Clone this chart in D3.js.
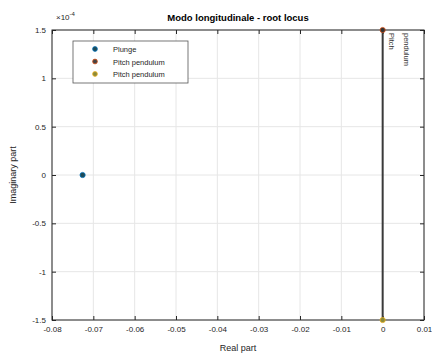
<!DOCTYPE html>
<html>
<head>
<meta charset="utf-8">
<script src="https://cdn.jsdelivr.net/npm/d3@7"></script>
<style>
  html, body { margin: 0; padding: 0; background: #fff; }
  svg { display: block; font-family: "Liberation Sans", Arial, sans-serif; }
</style>
</head>
<body>
<svg id="chart" width="432" height="358"></svg>
<script>
// Longitudinal-mode root locus data
const xTicks = [-0.08, -0.07, -0.06, -0.05, -0.04, -0.03, -0.02, -0.01, 0, 0.01];
const yTicks = [-1.5, -1, -0.5, 0, 0.5, 1, 1.5];          // units of 1e-4
const seriesNames = ["Plunge", "Pitch pendulum", "Pitch pendulum"];
const seriesColors = ["#0072BD", "#D95319", "#EDB120"];
const rootsRe = [-0.0726, 0, 0];
const rootsIm = [0, 1.5, -1.5];                             // units of 1e-4
const locusRe = [0, 0];
const locusIm = [1.5, -1.5];
const rootLabels = ["Pitch", "pendulum"];

const svg = d3.select("#chart");
const m = { left: 52, right: 424, top: 30, bottom: 320 };

const x = d3.scaleLinear().domain([-0.08, 0.01]).range([m.left, m.right]);
const y = d3.scaleLinear().domain([-1.5, 1.5]).range([m.bottom, m.top]);

// grid
const grid = svg.append("g").attr("stroke", "#e6e6e6").attr("stroke-width", 1);
grid.selectAll(".gx").data(xTicks).join("line")
  .attr("x1", d => x(d)).attr("x2", d => x(d)).attr("y1", m.top).attr("y2", m.bottom);
grid.selectAll(".gy").data(yTicks).join("line")
  .attr("x1", m.left).attr("x2", m.right).attr("y1", d => y(d)).attr("y2", d => y(d));

// axes (plain hyphen for negative numbers)
const xAxis = d3.axisBottom(x).tickValues(xTicks).tickSize(-4).tickPadding(6)
  .tickFormat(d => d === 0 ? "0" : d3.format(".2f")(d).replace("\u2212", "-"));
const yAxis = d3.axisLeft(y).tickValues(yTicks).tickSize(-4).tickPadding(6)
  .tickFormat(d => d === 0 ? "0" : String(d));

function styleAxis(g) {
  g.select(".domain").remove();
  g.selectAll(".tick line").attr("stroke", "#262626");
  g.selectAll(".tick text").attr("fill", "#262626").attr("font-size", 8);
}
svg.append("g").attr("transform", `translate(0,${m.bottom})`).call(xAxis).call(styleAxis);
svg.append("g").attr("transform", `translate(${m.left},0)`).call(yAxis).call(styleAxis);
// mirrored ticks on top and right
svg.append("g").attr("transform", `translate(0,${m.top})`)
  .call(d3.axisTop(x).tickValues(xTicks).tickSize(-4).tickFormat(""))
  .call(g => { g.select(".domain").remove(); g.selectAll(".tick line").attr("stroke", "#262626"); });
svg.append("g").attr("transform", `translate(${m.right},0)`)
  .call(d3.axisRight(y).tickValues(yTicks).tickSize(-4).tickFormat(""))
  .call(g => { g.select(".domain").remove(); g.selectAll(".tick line").attr("stroke", "#262626"); });

// box
svg.append("rect").attr("x", m.left).attr("y", m.top)
  .attr("width", m.right - m.left).attr("height", m.bottom - m.top)
  .attr("fill", "none").attr("stroke", "#262626").attr("stroke-width", 1);

// locus branch along the imaginary axis
svg.append("line")
  .attr("x1", x(locusRe[0])).attr("x2", x(locusRe[1]))
  .attr("y1", y(locusIm[0])).attr("y2", y(locusIm[1]))
  .attr("stroke", "#3a3a3a").attr("stroke-width", 2);

// roots
svg.selectAll(".root").data(rootsRe).join("circle")
  .attr("cx", (d, i) => x(d)).attr("cy", (d, i) => y(rootsIm[i])).attr("r", 2.6)
  .attr("fill", (d, i) => i === 1 ? "#333" : (i === 0 ? "#1f4a55" : "#8a8a3a"))
  .attr("stroke", (d, i) => seriesColors[i]).attr("stroke-width", 0.8);

// rotated labels next to the upper root
rootLabels.forEach((t, i) => {
  svg.append("text")
    .attr("transform", `translate(${x(0) + 6 + i * 15},${m.top + 3}) rotate(90)`)
    .attr("font-size", 7.5).attr("fill", "#333").text(t);
});

// exponent label
const ex = svg.append("text").attr("x", 56).attr("y", 20).attr("font-size", 8).attr("fill", "#262626");
ex.append("tspan").text("\u00d710");
ex.append("tspan").attr("dy", -4).attr("font-size", 6).text("-4");

// title and axis labels
svg.append("text").attr("x", (m.left + m.right) / 2).attr("y", 21)
  .attr("text-anchor", "middle").attr("font-size", 9.5).attr("font-weight", "bold")
  .attr("fill", "#000").text("Modo longitudinale - root locus");
svg.append("text").attr("x", (m.left + m.right) / 2).attr("y", 351)
  .attr("text-anchor", "middle").attr("font-size", 9).attr("fill", "#262626").text("Real part");
svg.append("text")
  .attr("transform", `translate(16,${(m.top + m.bottom) / 2}) rotate(-90)`)
  .attr("text-anchor", "middle").attr("font-size", 9).attr("fill", "#262626").text("Imaginary part");

// legend
const lg = svg.append("g").attr("transform", "translate(73,41)");
lg.append("rect").attr("width", 115).attr("height", 42)
  .attr("fill", "#fff").attr("stroke", "#555").attr("stroke-width", 0.8);
seriesNames.forEach((name, i) => {
  const row = lg.append("g").attr("transform", `translate(0,${8 + i * 12.5})`);
  row.append("circle").attr("cx", 22).attr("cy", 0).attr("r", 2.4)
    .attr("fill", i === 0 ? "#1f4a55" : (i === 1 ? "#444" : "#8a8a3a"))
    .attr("stroke", seriesColors[i]).attr("stroke-width", 0.8);
  row.append("text").attr("x", 40).attr("y", 3).attr("font-size", 7.5)
    .attr("fill", "#262626").text(name);
});
</script>
</body>
</html>
